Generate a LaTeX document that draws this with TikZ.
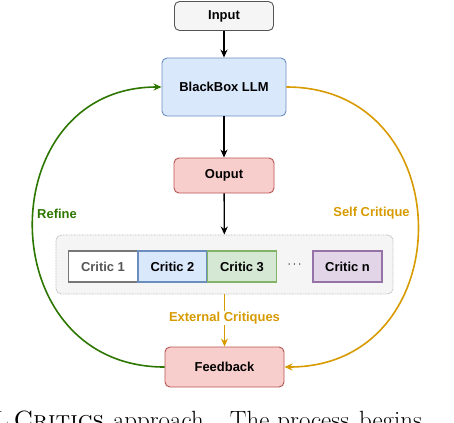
\documentclass[tikz,border=0pt]{standalone}
\usepackage{fontspec}
\setsansfont{Liberation Sans}
\usetikzlibrary{arrows.meta}

\definecolor{greyfill}{HTML}{F5F5F5}
\definecolor{greyline}{HTML}{555555}
\definecolor{bluefill}{HTML}{DAE8FC}
\definecolor{blueline}{HTML}{6C8EBF}
\definecolor{redfill}{HTML}{F8CECC}
\definecolor{redline}{HTML}{B85450}
\definecolor{greenfill}{HTML}{D5E8D4}
\definecolor{greenline}{HTML}{82B366}
\definecolor{purplefill}{HTML}{E1D5E7}
\definecolor{purpleline}{HTML}{9673A6}
\definecolor{refinegreen}{HTML}{2D7600}
\definecolor{critiqueorange}{HTML}{D79B00}

\begin{document}
\begin{tikzpicture}[x=1bp, y=-1bp, >={Stealth[length=8bp,width=7bp]},
    txt/.style={font=\sffamily\bfseries\fontsize{13}{15}\selectfont},
    box/.style={txt, draw, rounded corners=5bp, line width=0.9bp, inner sep=0pt},
    critic/.style={txt, draw, line width=1.1bp, inner sep=0pt, minimum width=69bp, minimum height=31bp},
    flow/.style={->, line width=1.3bp},
    refine/.style={->, line width=1.6bp, refinegreen},
    critique/.style={->, line width=1.6bp, critiqueorange}]
    \useasboundingbox (0,0) rectangle (454,422);
    \clip (0,0) rectangle (454,422);

    % Main pipeline
    \node[box, fill=greyfill, draw=greyline, minimum width=99bp, minimum height=29bp] (input) at (224,16) {Input};
    \node[box, fill=bluefill, draw=blueline, minimum width=124bp, minimum height=58bp] (llm) at (224,87) {BlackBox LLM};
    \node[box, fill=redfill, draw=redline, minimum width=100bp, minimum height=35bp] (output) at (224,175.5) {Ouput};

    % Critics group
    \node[draw=gray!55, fill=greyfill, rounded corners=6bp, dash pattern=on 0.8bp off 0.8bp, line width=0.9bp,
          minimum width=337bp, minimum height=59bp] (critics) at (224.5,264.5) {};
    \node[critic, fill=white, draw=greyline!80, text=greyline] (c1) at (103,266.5) {Critic 1};
    \node[critic, fill=bluefill, draw=blueline] (c2) at (172.5,266.5) {Critic 2};
    \node[critic, fill=greenfill, draw=greenline] (c3) at (242,266.5) {Critic 3};
    \node[txt] (dots) at (294.5,265) {$\cdots$};
    \node[critic, fill=purplefill, draw=purpleline] (cn) at (347.5,266.5) {Critic n};

    \node[box, fill=redfill, draw=redline, minimum width=119bp, minimum height=40bp] (feedback) at (224.5,367) {Feedback};

    % Arrows
    \draw[flow] (input) -- (llm);
    \draw[flow] (llm) -- (output);
    \draw[flow] (output) -- (critics);
    \draw[critique] (critics.south -| feedback.north) -- node[txt, fill=white, inner sep=1bp, pos=0.45] {External Critiques} (feedback);

    % Loops back
    \draw[refine] (feedback.west) .. controls (-10.5,367) and (-10.5,87) .. (llm.west);
    \draw[critique] (llm.east) .. controls (462,87) and (462,367) .. (feedback.east);
    \node[txt, text=refinegreen] (refinelbl) at (57,213.5) {Refine};
    \node[txt, text=critiqueorange] (selflbl) at (371.5,213.5) {Self Critique};

    % Caption (cut off by the frame)
    \node[anchor=base west, inner sep=0pt, font=\fontsize{25}{30}\selectfont] (caption) at (-6,428)
        {L\hspace{5bp}\textsc{Critics}\hspace{9bp}approach.\hspace{20bp}The\hspace{8bp}process\hspace{10bp}begins};
\end{tikzpicture}
\end{document}
